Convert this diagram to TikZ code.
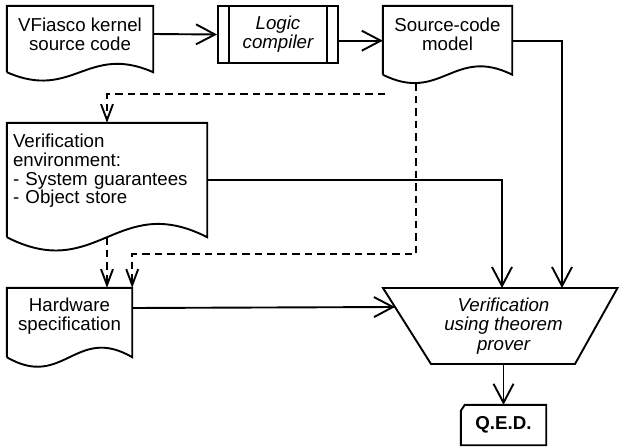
\documentclass[tikz,border=0pt]{standalone}
\usepackage{fontspec}
\setmainfont{Liberation Sans}
\usetikzlibrary{arrows.meta,calc}
\newcommand\docpath[3]{%
  \draw[shapeline] ($(#1.south west)+(0,#2)$) -- (#1.north west) -- (#1.north east) -- ($(#1.south east)+(0,#2)$)
    .. controls ($(#1.south west)!0.55!(#1.south east)+(0,#2-#3)$) and ($(#1.south west)!0.45!(#1.south east)+(0,#2+#3)$) .. ($(#1.south west)+(0,#2)$);}
\begin{document}
\begin{tikzpicture}[x=1pt,y=-1pt,
  font=\fontsize{18.7}{18.7}\selectfont,
  shapeline/.style={line width=1.9pt, line join=miter},
  box/.style={draw=none, inner sep=0pt, align=center},
  arr/.style={line width=1.9pt, -{Straight Barb[length=19pt,width=20pt,line width=1.9pt]}},
  darr/.style={line width=1.9pt, dash pattern=on 7.5pt off 5pt, -{Straight Barb[length=16pt,width=12pt,line width=1.9pt]}}]
\useasboundingbox (0,0) rectangle (619,447);

% documents
\node[box, minimum width=146pt, minimum height=56pt] (kernel) at (80,34) {VFiasco kernel\\source code};
\docpath{kernel}{10}{29}
\node[box, minimum width=129pt, minimum height=56pt] (src) at (447.5,34) {Source-code\\model};
\docpath{src}{12.5}{29}
\node[box, text width=188pt, inner xsep=6pt, inner ysep=0pt, align=left, minimum height=96pt] (env) at (107,171)
  {Verification\\environment:\\- System guarantees\\- Object store};
\docpath{env}{18}{46}
\node[box, minimum width=125pt, minimum height=57pt] (hw) at (69.5,316.5) {Hardware\\specification};
\docpath{hw}{12}{33}

% logic compiler
\node[box, draw, shapeline, minimum width=120pt, minimum height=57pt, font=\fontsize{18.7}{18.7}\selectfont\itshape] (logic) at (278,34.5) {Logic\\compiler};
\draw[shapeline] ($(logic.north west)+(12,0)$) -- ($(logic.south west)+(12,0)$);
\draw[shapeline] ($(logic.north east)+(-12,0)$) -- ($(logic.south east)+(-12,0)$);

% prover
\coordinate (ptl) at (383,288);
\coordinate (ptr) at (617.5,288);
\coordinate (pbr) at (575,364);
\coordinate (pbl) at (431,364);
\draw[shapeline] (ptl) -- (ptr) -- (pbr) -- (pbl) -- cycle;
\node[box, font=\fontsize{18.7}{19.5}\selectfont\itshape] (prover) at (503.5,326) {Verification\\using theorem\\prover};

% QED
\node[box, minimum width=85pt, minimum height=40pt, font=\fontsize{18.7}{18.7}\selectfont\bfseries] (qed) at (503.5,425) {Q.E.D.};
\draw[shapeline] ($(qed.north west)+(0,6)$) -- ($(qed.north west)+(4,0)$) -- (qed.north east) -- (qed.south east) -- (qed.south west) -- cycle;

% connector points
\coordinate (penv) at (502,288);
\coordinate (psrc) at (562,288);
\coordinate (phw) at ($(ptl)!0.25!(pbl)$);
\coordinate (srcdash) at (385,94);
\coordinate (srcwave) at (416,83);
\coordinate (dturn) at (416,254);
\coordinate (envwave) at (107,237);

% solid connectors
\draw[arr] (kernel.east) -- (logic.west);
\draw[arr] ([yshift=-6.2pt]logic.east) -- ([yshift=-6.2pt]logic.east -| src.west);
\draw[arr] ([yshift=-6.7pt]src.east) -| (psrc);
\draw[arr] ([yshift=-9pt]env.east) -| (penv);
\draw[arr] ([yshift=8.5pt]hw.east) -- (phw);
\draw[arr] (qed.north |- pbl) -- (qed.north);

% dashed connectors
\draw[darr] (srcdash) -| (env.north);
\draw[darr] (srcwave) -- (dturn) -| (hw.north east);
\draw[darr] (envwave) -- (envwave |- hw.north);
\end{tikzpicture}
\end{document}
